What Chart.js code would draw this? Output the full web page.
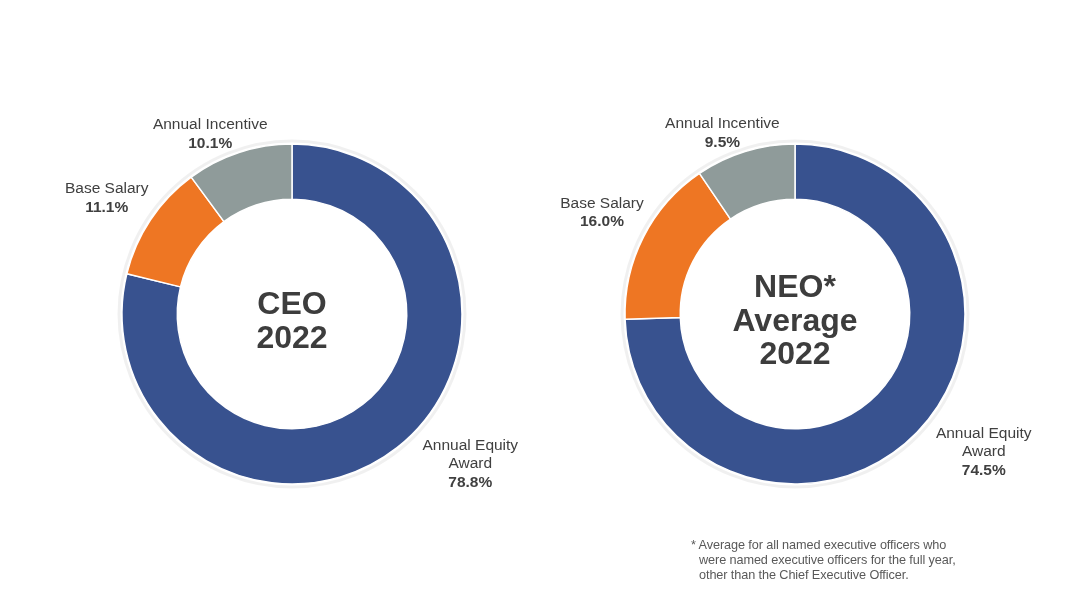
<!DOCTYPE html>
<html>
<head>
<meta charset="utf-8">
<script src="https://cdn.jsdelivr.net/npm/chart.js@4"></script>
<style>
  html,body{margin:0;padding:0;background:#fff;}
  body{width:1078px;height:607px;position:relative;overflow:hidden;font-family:"Liberation Sans",Arial,sans-serif;}
  .wrap{position:absolute;top:0;width:539px;height:607px;}
  #foot{position:absolute;left:691px;top:538px;font-size:12.7px;line-height:15px;color:#595959;letter-spacing:-0.1px;}
  #foot div.i{padding-left:8px;}
</style>
</head>
<body>
<div class="wrap" style="left:0"><canvas id="c1"></canvas></div>
<div class="wrap" style="left:539px"><canvas id="c2"></canvas></div>
<div id="foot"><div>* Average for all named executive officers who</div><div class="i">were named executive officers for the full year,</div><div class="i">other than the Chief Executive Officer.</div></div>
<script>
const categories = ["Annual Equity Award", "Base Salary", "Annual Incentive"];
const labelLines = [["Annual Equity", "Award"], ["Base Salary"], ["Annual Incentive"]];
const ceoValues = [78.8, 11.1, 10.1];
const neoValues = [74.5, 16.0, 9.5];
const ceoCenter = ["CEO", "2022"];
const neoCenter = ["NEO*", "Average", "2022"];
const colors = ["#38528F", "#EE7623", "#8F9B9A"];
const FONT = 'Arial, "Liberation Sans", sans-serif';

const labelPlugin = {
  id: 'pieLabels',
  afterDatasetsDraw(chart, args, opts) {
    const ctx = chart.ctx;
    const meta = chart.getDatasetMeta(0);
    const vals = chart.data.datasets[0].data;
    const a0 = meta.data[0];
    const cx = a0.x, cy = a0.y, R = a0.outerRadius;
    // faint outer ring
    ctx.save();
    ctx.beginPath();
    ctx.arc(cx, cy, R + 3, 0, Math.PI * 2);
    ctx.strokeStyle = 'rgba(0,0,0,0.06)';
    ctx.lineWidth = 3;
    ctx.stroke();
    ctx.restore();

    // center text
    ctx.save();
    ctx.fillStyle = '#3d3d3d';
    ctx.font = 'bold 32px ' + FONT;
    ctx.textAlign = 'center';
    ctx.textBaseline = 'middle';
    const cl = opts.center;
    const lh = 33.5;
    cl.forEach((t, i) => ctx.fillText(t, cx, cy + 8 + (i - (cl.length - 1) / 2) * lh));
    ctx.restore();

    // data labels
    meta.data.forEach((arc, i) => {
      const mid = (arc.startAngle + arc.endAngle) / 2;
      const dx = Math.cos(mid), dy = Math.sin(mid);
      const lines = labelLines[i].slice();
      const pct = vals[i].toFixed(1) + '%';
      const lhh = 18.5;
      const h = (lines.length + 1) * lhh;
      ctx.save();
      ctx.font = '15.5px ' + FONT;
      let w = 0;
      lines.forEach(l => w = Math.max(w, ctx.measureText(l).width));
      const px = cx + (R + 6) * dx, py = cy + (R + 6) * dy;
      const nud = (opts.nudge && opts.nudge[i]) || [0, 0];
      const bx = px + dx * w / 2 + nud[0];
      const by = py + dy * h / 2 + nud[1];
      ctx.textAlign = 'center';
      ctx.textBaseline = 'middle';
      ctx.fillStyle = '#404040';
      const top = by - h / 2 + lhh / 2;
      lines.forEach((l, k) => ctx.fillText(l, bx, top + k * lhh));
      ctx.font = 'bold 15.5px ' + FONT;
      ctx.fillText(pct, bx, top + lines.length * lhh);
      ctx.restore();
    });
  }
};

function makeChart(id, values, center, padding, nudge) {
  return new Chart(document.getElementById(id), {
    type: 'doughnut',
    data: {
      labels: categories,
      datasets: [{
        data: values,
        backgroundColor: colors,
        borderColor: '#ffffff',
        borderWidth: 1.5
      }]
    },
    options: {
      responsive: true,
      maintainAspectRatio: false,
      animation: false,
      radius: 170,
      cutout: '67.5%',
      layout: { padding: padding },
      plugins: {
        legend: { display: false },
        tooltip: { enabled: false },
        pieLabels: { center: center, nudge: nudge }
      }
    },
    plugins: [labelPlugin]
  });
}

makeChart('c1', ceoValues, ceoCenter, { left: 45, top: 21, right: 0, bottom: 0 }, [[40, -10], [-4, -8], [-9, 5]]);
makeChart('c2', neoValues, neoCenter, { left: 0, top: 21, right: 27, bottom: 0 }, [[28, -4], [1, -13], [-4, 5]]);
</script>
</body>
</html>
